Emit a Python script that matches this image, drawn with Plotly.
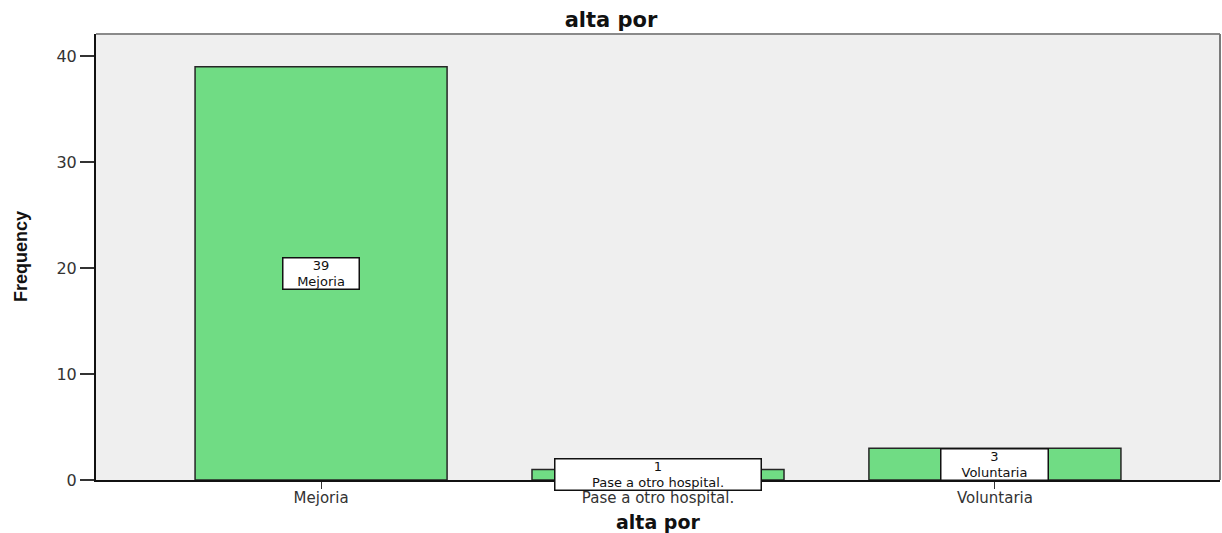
import plotly.graph_objects as go

# Discharge reason counts
categories = ["Mejoria", "Pase a otro hospital.", "Voluntaria"]
frequencies = [39, 1, 3]
y_ticks = [0, 10, 20, 30, 40]

chart_title = "alta por"
x_title = "alta por"
y_title = "Frequency"

BAR_FILL = "#70dc84"
BAR_EDGE = "#262626"
PLOT_BG = "#efefef"
TEXT_FONT = "DejaVu Sans, Verdana, Arial, sans-serif"

# Pixel size of the value/category box drawn on each bar
box_widths = [75, 205, 106]
box_height = 30

fig = go.Figure()

fig.add_trace(
    go.Bar(
        x=list(range(len(categories))),
        y=frequencies,
        width=0.748,
        marker=dict(color=BAR_FILL, line=dict(color=BAR_EDGE, width=1.5)),
        hoverinfo="skip",
    )
)

# Value / category boxes in the middle of each bar
for i, (cat, val) in enumerate(zip(categories, frequencies)):
    fig.add_annotation(
        x=i,
        y=val / 2,
        xref="x",
        yref="y",
        text=f"{val}<br>{cat}",
        showarrow=False,
        font=dict(family=TEXT_FONT, size=13, color="#111111"),
        bgcolor="white",
        bordercolor="#111111",
        borderwidth=1.5,
        borderpad=0,
        width=box_widths[i],
        height=box_height,
        align="center",
        valign="middle",
        xanchor="center",
        yanchor="middle",
    )

# Axis titles
fig.add_annotation(
    x=-0.0667, y=0.5, xref="paper", yref="paper",
    text=f"<b>{y_title}</b>", textangle=-90, showarrow=False,
    font=dict(family="Liberation Sans, Arial, sans-serif", size=18, color="#111111"),
    xanchor="center", yanchor="middle",
)
fig.add_annotation(
    x=0.5, y=-0.094, xref="paper", yref="paper",
    text=f"<b>{x_title}</b>", showarrow=False,
    font=dict(family=TEXT_FONT, size=19, color="#111111"),
    xanchor="center", yanchor="middle",
)

# Gray frame on the top and right sides of the plot area
fig.add_shape(type="line", xref="paper", yref="paper", x0=0, x1=1, y0=1, y1=1,
              line=dict(color="#8a8a8a", width=2))
fig.add_shape(type="line", xref="paper", yref="paper", x0=1, x1=1, y0=0, y1=1,
              line=dict(color="#7a7a7a", width=2))

fig.update_layout(
    width=1222,
    height=533,
    margin=dict(l=96, r=2, t=34, b=53),
    paper_bgcolor="white",
    plot_bgcolor=PLOT_BG,
    showlegend=False,
    title=dict(
        text=f"<b>{chart_title}</b>",
        x=0.5, xref="container", xanchor="center",
        y=1 - 20 / 533, yref="container", yanchor="middle",
        font=dict(family=TEXT_FONT, size=21, color="#111111"),
    ),
    xaxis=dict(
        range=[-0.668, 2.668],
        tickmode="array",
        tickvals=list(range(len(categories))),
        ticktext=categories,
        ticks="outside",
        ticklen=7,
        tickwidth=1,
        tickcolor="#333333",
        ticklabelstandoff=-4,
        showline=True,
        linecolor="#111111",
        linewidth=1.5,
        showgrid=False,
        zeroline=False,
        tickfont=dict(family=TEXT_FONT, size=15, color="#333333"),
        fixedrange=True,
    ),
    yaxis=dict(
        range=[0, 42.08],
        tickmode="array",
        tickvals=y_ticks,
        ticks="outside",
        ticklen=14,
        tickwidth=1.5,
        tickcolor="#333333",
        showline=True,
        linecolor="#111111",
        linewidth=2,
        showgrid=False,
        zeroline=False,
        tickfont=dict(family=TEXT_FONT, size=16, color="#333333"),
        fixedrange=True,
    ),
)

fig.write_html("out.html", config={"displayModeBar": False})
